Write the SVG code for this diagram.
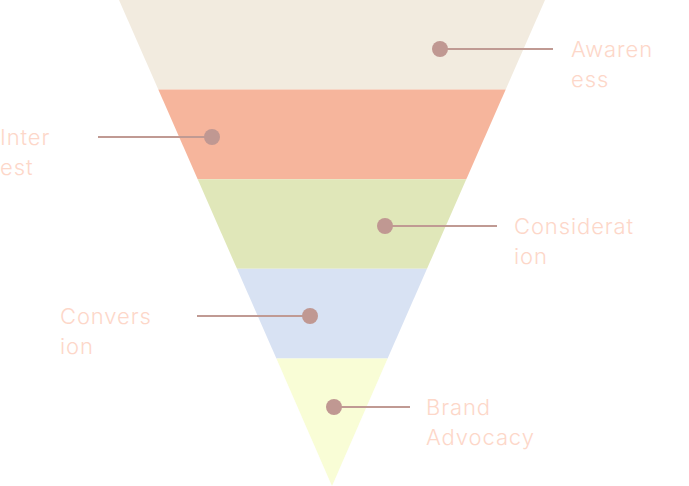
<svg xmlns="http://www.w3.org/2000/svg" width="689" height="486" viewBox="0 0 689 486">
<style>
.lbl{font-family:Inter,"Liberation Sans",sans-serif;font-size:22px;font-weight:300;letter-spacing:0.9px;fill:#FDD7C9;}
.ln{stroke:#C09A93;stroke-width:2;fill:none;}
.dot{fill:#C09892;}
</style>
<rect width="689" height="486" fill="#FFFFFF"/>
<g id="funnel">
<polygon id="band-awareness" points="119,0 545,0 505.7,89.6 158.3,89.6" fill="#F2EBDF"/>
<polygon id="band-interest" points="158.3,89.6 505.7,89.6 466.3,179.2 197.7,179.2" fill="#F6B59C"/>
<polygon id="band-consideration" points="197.7,179.2 466.3,179.2 427,268.8 237,268.8" fill="#E0E7B9"/>
<polygon id="band-conversion" points="237,268.8 427,268.8 387.6,358.4 276.4,358.4" fill="#D8E2F3"/>
<polygon id="band-advocacy" points="276.4,358.4 387.6,358.4 332,486" fill="#F9FDD6"/>
</g>
<g id="connectors">
<line class="ln" x1="440" y1="49" x2="553" y2="49"/>
<line class="ln" x1="98" y1="137" x2="212" y2="137"/>
<line class="ln" x1="385" y1="226" x2="497" y2="226"/>
<line class="ln" x1="197" y1="316" x2="310" y2="316"/>
<line class="ln" x1="334" y1="407" x2="410" y2="407"/>
</g>
<g id="awareness"><circle class="dot" cx="440" cy="49" r="8"/><text class="lbl" x="571" y="57">Awaren</text><text class="lbl" x="571" y="87">ess</text></g>
<g id="interest"><circle class="dot" cx="212" cy="137" r="8"/><text class="lbl" x="0" y="145">Inter</text><text class="lbl" x="0" y="175">est</text></g>
<g id="consideration"><circle class="dot" cx="385" cy="226" r="8"/><text class="lbl" x="514" y="234">Considerat</text><text class="lbl" x="514" y="264">ion</text></g>
<g id="conversion"><circle class="dot" cx="310" cy="316" r="8"/><text class="lbl" x="60" y="324">Convers</text><text class="lbl" x="60" y="354">ion</text></g>
<g id="advocacy"><circle class="dot" cx="334" cy="407" r="8"/><text class="lbl" x="426" y="415">Brand</text><text class="lbl" x="426" y="445">Advocacy</text></g>
</svg>
